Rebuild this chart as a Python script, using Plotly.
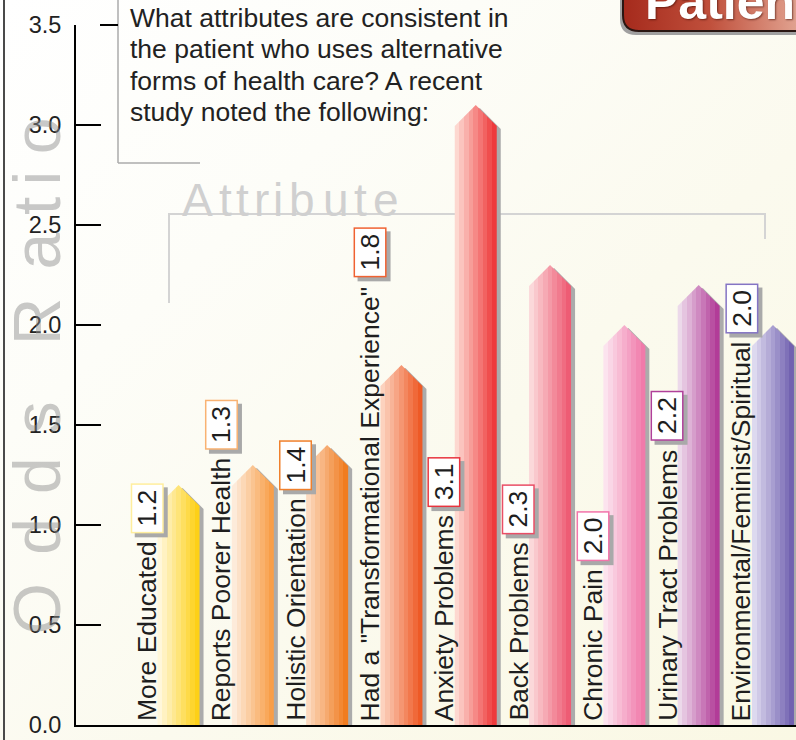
import base64
import plotly.graph_objects as go

# ---------------- data ----------------
categories = ["More Educated", "Reports Poorer Health", "Holistic Orientation",
              'Had a "Transformational Experience"', "Anxiety Problems", "Back Problems",
              "Chronic Pain", "Urinary Tract Problems", "Environmental/Feminist/Spiritual"]
odds_ratios = [1.2, 1.3, 1.4, 1.8, 3.1, 2.3, 2.0, 2.2, 2.0]
value_labels = ["1.2", "1.3", "1.4", "1.8", "3.1", "2.3", "2.0", "2.2", "2.0"]
y_tick_values = [0.0, 0.5, 1.0, 1.5, 2.0, 2.5, 3.0, 3.5]
y_tick_labels = ["0.0", "0.5", "1.0", "1.5", "2.0", "2.5", "3.0", "3.5"]
intro_lines = ["What attributes are consistent in",
               "the patient who uses alternative",
               "forms of health care? A recent",
               "study noted the following:"]
axis_title = "Odds Ratio"
group_title = "Attribute"
badge_title = "Patient"

# ---------------- styles ----------------
bar_light = ["#FFF7DA", "#FDEBDA", "#FCD9BE", "#FCD2BE", "#FDD8D0", "#FBD8DA", "#FCE3EE", "#ECD9EA", "#DDD9EF"]
bar_dark = ["#FDD017", "#F89E48", "#F07C20", "#EE5A26", "#EE3A3C", "#EE5C74", "#F07AAA", "#B23C98", "#7262B0"]
box_border = ["#FFEE9E", "#F9B272", "#F0802C", "#F06232", "#E8343E", "#EA4E66", "#F274AA", "#B0409A", "#8474C4"]

FONT = "Liberation Sans, Arial, sans-serif"
W, H = 796, 740
X_LEFT_PX, Y_TOP_PX, Y_BOT_PX = 76, 25, 725
X_RANGE = [-1.38, 8.31]
Y_RANGE = [0, 3.5]
PX_PER_X = (W - X_LEFT_PX) / (X_RANGE[1] - X_RANGE[0])
PX_PER_Y = (Y_BOT_PX - Y_TOP_PX) / (Y_RANGE[1] - Y_RANGE[0])


def px(x):
    return x / W


def py(y):
    return 1 - y / H


# Arial / Liberation Sans advance widths (per 1000 em)
AW = {' ': 278, '"': 355, '/': 278, '.': 278, ':': 278, '?': 556,
      'A': 667, 'B': 667, 'C': 722, 'D': 722, 'E': 667, 'F': 611, 'G': 778, 'H': 722, 'I': 278,
      'J': 500, 'K': 667, 'L': 556, 'M': 833, 'N': 722, 'O': 778, 'P': 667, 'Q': 778, 'R': 722,
      'S': 667, 'T': 611, 'U': 722, 'V': 667, 'W': 944, 'X': 667, 'Y': 667, 'Z': 611,
      'a': 556, 'b': 556, 'c': 500, 'd': 556, 'e': 556, 'f': 278, 'g': 556, 'h': 556, 'i': 222,
      'j': 222, 'k': 500, 'l': 222, 'm': 833, 'n': 556, 'o': 556, 'p': 556, 'q': 556, 'r': 333,
      's': 500, 't': 278, 'u': 556, 'v': 500, 'w': 722, 'x': 500, 'y': 500, 'z': 500}
for d in "0123456789":
    AW[d] = 556


def text_em(s):
    return sum(AW.get(c, 556) for c in s) / 1000.0


def hexrgb(h):
    h = h.lstrip('#')
    return tuple(int(h[i:i + 2], 16) for i in (0, 2, 4))


def mix(c1, c2, t):
    a, b = hexrgb(c1), hexrgb(c2)
    return "rgb(%d,%d,%d)" % tuple(round(a[i] + (b[i] - a[i]) * t) for i in range(3))


def stripes(c1, c2, n=9):
    cs = []
    for i in range(n):
        col = mix(c1, c2, i / (n - 1))
        cs.append([i / n, col])
        cs.append([(i + 1) / n, col])
    return cs


fig = go.Figure()

half_w = 21 / PX_PER_X          # bar half width (x units)
tip = 21 / PX_PER_Y             # 45-degree pointed top (y units)
sdx = 4 / PX_PER_X
sdy = 3 / PX_PER_Y

for i, v in enumerate(odds_ratios):
    c = i
    # shadow
    xs = [c - half_w + sdx, c - half_w + sdx, c + sdx, c + half_w + sdx, c + half_w + sdx, c - half_w + sdx]
    ys = [0, v - tip - sdy, v - sdy, v - tip - sdy, 0, 0]
    fig.add_trace(go.Scatter(x=xs, y=ys, mode="lines", fill="toself", fillcolor="#ABABAB",
                             line=dict(width=0, color="rgba(0,0,0,0)"), hoverinfo="skip",
                             showlegend=False))
    # bar
    xs = [c - half_w, c - half_w, c, c + half_w, c + half_w, c - half_w]
    ys = [0, v - tip, v, v - tip, 0, 0]
    fig.add_trace(go.Scatter(x=xs, y=ys, mode="lines", fill="toself",
                             fillgradient=dict(type="horizontal",
                                               colorscale=stripes(bar_light[i], bar_dark[i])),
                             line=dict(width=0, color="rgba(0,0,0,0)"),
                             name=categories[i], hovertemplate="%{fullData.name}<extra></extra>",
                             showlegend=False))

annotations = []
label_dx = -31.5 / PX_PER_X
for i, (cat, lab) in enumerate(zip(categories, value_labels)):
    fs = 26.5
    ln = text_em(cat) * fs
    annotations.append(dict(x=i + label_dx, y=0, xref="x", yref="y", text=cat, showarrow=False,
                            textangle=-90, xanchor="center", yanchor="bottom", yshift=2,
                            font=dict(family=FONT, size=fs, color="#1E1E1E")))
    yb = (ln + 12) / PX_PER_Y
    txt = "\u2009" + lab + "\u2009"
    annotations.append(dict(x=i + label_dx, y=yb, xref="x", yref="y", text=txt, showarrow=False,
                            textangle=-90, xanchor="center", yanchor="bottom", xshift=4, yshift=-4,
                            bgcolor="#A9A9A9", bordercolor="#A9A9A9", borderwidth=1.5, borderpad=0,
                            font=dict(family=FONT, size=fs, color="#A9A9A9")))
    annotations.append(dict(x=i + label_dx, y=yb, xref="x", yref="y", text=txt, showarrow=False,
                            textangle=-90, xanchor="center", yanchor="bottom",
                            bgcolor="#FFFFFF", bordercolor=box_border[i], borderwidth=1.5, borderpad=0,
                            font=dict(family=FONT, size=fs, color="#1E1E1E")))

# "Odds Ratio" – wide spaced letters, reading upward
o_bottom, o_scale = 652, 109.2
cum = 0.0
for ch in axis_title:
    w = AW[ch] / 1000.0
    if ch != " ":
        yc = o_bottom - (cum + w / 2) * o_scale
        annotations.append(dict(x=px(37), y=py(yc), xref="paper", yref="paper", text=ch,
                                showarrow=False, textangle=-90, xanchor="center", yanchor="middle",
                                font=dict(family=FONT, size=66, color="rgba(140,140,140,0.47)")))
    cum += w

# "Attribute" – wide spaced letters
a_left, a_scale = 177, 60.7
cum = 0.0
for ch in group_title:
    w = AW[ch] / 1000.0
    xc = a_left + (cum + w / 2) * a_scale
    annotations.append(dict(x=px(xc), y=py(200), xref="paper", yref="paper", text=ch,
                            showarrow=False, xanchor="center", yanchor="middle",
                            font=dict(family=FONT, size=46, color="#D0D0D0")))
    cum += w

# intro text
for line, yc in zip(intro_lines, [17.5, 49, 81, 112.5]):
    annotations.append(dict(x=px(128), y=py(yc), xref="paper", yref="paper", text=line,
                            showarrow=False, xanchor="left", yanchor="middle",
                            font=dict(family=FONT, size=26.5, color="#222222")))

# badge title
annotations.append(dict(x=px(643), y=py(2), xref="paper", yref="paper", text="<b>%s</b>" % badge_title,
                        showarrow=False, xanchor="left", yanchor="middle",
                        font=dict(family=FONT, size=50, color="#FFFFFF",
                                  shadow="1px 1px 2px rgba(60,10,0,0.6)")))

# ---------------- decorative images ----------------
bg_svg = ('<svg xmlns="http://www.w3.org/2000/svg" width="796" height="740" viewBox="0 0 796 740" '
          'preserveAspectRatio="none"><defs><linearGradient id="g" x1="0" y1="0" x2="1" y2="1">'
          '<stop offset="0" stop-color="#FFFFFF"/><stop offset="0.3" stop-color="#FDFDF8"/>'
          '<stop offset="0.6" stop-color="#FBFAEE"/><stop offset="1" stop-color="#FAF8E4"/>'
          '</linearGradient></defs><rect width="796" height="740" fill="url(#g)"/></svg>')
badge_svg = ('<svg xmlns="http://www.w3.org/2000/svg" width="180" height="40" viewBox="0 0 180 40">'
             '<defs><linearGradient id="b" x1="0" y1="0" x2="1" y2="0">'
             '<stop offset="0" stop-color="#A52A1C"/><stop offset="0.45" stop-color="#C0503C"/>'
             '<stop offset="1" stop-color="#E8B4A2"/></linearGradient></defs>'
             '<path d="M4,-20 H200 V35 H20 Q4,35 4,19 Z" fill="#A0A0A0"/>'
             '<path d="M7,-20 H200 V31 H23 Q7,31 7,15 Z" fill="url(#b)" stroke="#2A1612" stroke-width="2"/>'
             '</svg>')


def uri(s):
    return "data:image/svg+xml;base64," + base64.b64encode(s.encode()).decode()


images = [
    dict(source=uri(bg_svg), xref="paper", yref="paper", x=0, y=1, sizex=1, sizey=1,
         xanchor="left", yanchor="top", sizing="stretch", layer="below"),
    dict(source=uri(badge_svg), xref="paper", yref="paper", x=px(616), y=1, sizex=180 / W, sizey=40 / H,
         xanchor="left", yanchor="top", sizing="stretch", layer="below"),
]

# ---------------- shapes ----------------
shapes = [
    dict(type="line", xref="paper", yref="paper", x0=px(4), x1=px(4), y0=0, y1=1,
         line=dict(color="#4A4A4A", width=2)),
    dict(type="line", xref="paper", yref="paper", x0=px(118), x1=px(118), y0=py(0), y1=py(163),
         line=dict(color="#ABABAB", width=1.5)),
    dict(type="line", xref="paper", yref="paper", x0=px(118), x1=px(200), y0=py(163), y1=py(163),
         line=dict(color="#ABABAB", width=1.5)),
    dict(type="line", xref="paper", yref="paper", x0=px(100), x1=px(118), y0=py(25), y1=py(25),
         line=dict(color="#000000", width=2)),
    dict(type="path", xref="paper", yref="paper", layer="below",
         path="M %f,%f L %f,%f L %f,%f L %f,%f" % (px(169), py(303), px(169), py(214),
                                                   px(765), py(214), px(765), py(239)),
         line=dict(color="#D4D4D4", width=2)),
]

fig.update_layout(
    width=W, height=H, margin=dict(l=0, r=0, t=0, b=0, pad=0), autosize=False,
    paper_bgcolor="#FCFBF2", plot_bgcolor="rgba(0,0,0,0)",
    showlegend=False,
    xaxis=dict(domain=[X_LEFT_PX / W, 1], range=X_RANGE, showgrid=False, zeroline=False,
               showticklabels=False, ticks="", showline=True, linecolor="#000000", linewidth=2,
               fixedrange=True, automargin=False),
    yaxis=dict(domain=[1 - Y_BOT_PX / H, 1 - Y_TOP_PX / H], range=Y_RANGE, showgrid=False,
               zeroline=False, tickvals=y_tick_values, ticktext=y_tick_labels,
               ticks="inside", ticklen=25, tickwidth=2, tickcolor="#000000",
               showline=True, linecolor="#000000", linewidth=2, ticklabelstandoff=8,
               tickfont=dict(family=FONT, size=23.5, color="#222222"), fixedrange=True,
               automargin=False),
    annotations=annotations, shapes=shapes, images=images,
)

fig.write_html("out.html", config={"displayModeBar": False},
               post_script="document.body.style.margin='0px';")
